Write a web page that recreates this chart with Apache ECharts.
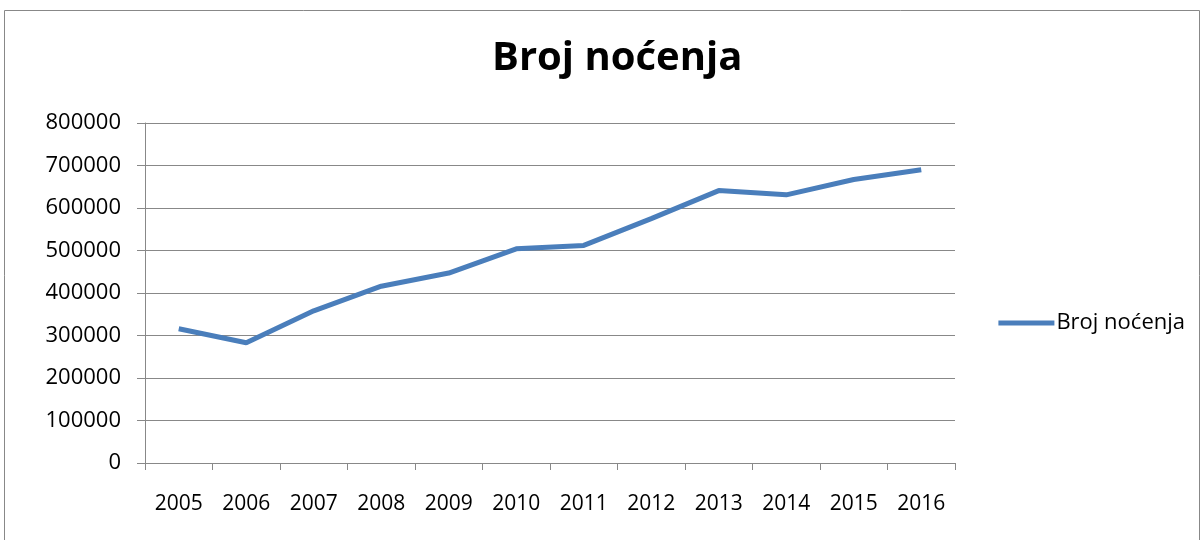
<!DOCTYPE html>
<html>
<head>
<meta charset="utf-8">
<script src="https://cdn.jsdelivr.net/npm/echarts@6/dist/echarts.min.js"></script>
<style>
  html, body { margin: 0; padding: 0; background: #fff; }
  #main { width: 1204px; height: 540px; }
</style>
</head>
<body>
<div id="main"></div>
<script>
// podaci
var years = ['2005', '2006', '2007', '2008', '2009', '2010', '2011', '2012', '2013', '2014', '2015', '2016'];
var nocenja = [316000, 283000, 358000, 416000, 447000, 504000, 512000, 575000, 641000, 631000, 667000, 690000];
var seriesName = 'Broj noćenja';

var chart = echarts.init(document.getElementById('main'));
var font = '"Open Sans", "Noto Sans", sans-serif';

var option = {
    animation: false,
    title: {
        text: 'Broj noćenja',
        left: 487,
        top: 34,
        textStyle: {
            fontFamily: font,
            fontSize: 40,
            fontWeight: 'bold',
            color: '#000'
        }
    },
    legend: {
        data: [seriesName],
        right: 14,
        top: 307,
        itemWidth: 56,
        itemHeight: 5,
        itemGap: 4,
        icon: 'rect',
        textStyle: {
            fontFamily: font,
            fontSize: 22,
            color: '#000',
            padding: [0, 0, 0, -3]
        }
    },
    graphic: [{
        type: 'rect',
        shape: { x: 4.5, y: 10.5, width: 1195, height: 540 },
        style: { fill: 'none', stroke: '#888', lineWidth: 1 }
    }],
    grid: {
        left: 145,
        right: 249,
        top: 123,
        bottom: 77
    },
    xAxis: {
        type: 'category',
        data: years,
        boundaryGap: true,
        axisLine: { lineStyle: { color: '#888' } },
        axisTick: { show: true, length: 7, lineStyle: { color: '#888' } },
        axisLabel: {
            margin: 31,
            fontFamily: font,
            fontSize: 21,
            color: '#000'
        }
    },
    yAxis: {
        type: 'value',
        min: 0,
        max: 800000,
        interval: 100000,
        axisLine: { show: true, lineStyle: { color: '#888' } },
        axisTick: { show: true, length: 8, lineStyle: { color: '#888' } },
        splitLine: { lineStyle: { color: '#888' } },
        axisLabel: {
            margin: 24,
            fontFamily: font,
            fontSize: 22,
            color: '#000',
            formatter: function (v) { return String(v); }
        }
    },
    series: [{
        name: seriesName,
        type: 'line',
        data: nocenja,
        symbol: 'none',
        lineStyle: { color: '#4a7ebb', width: 5 },
        itemStyle: { color: '#4a7ebb' }
    }]
};

chart.setOption(option);
</script>
</body>
</html>
